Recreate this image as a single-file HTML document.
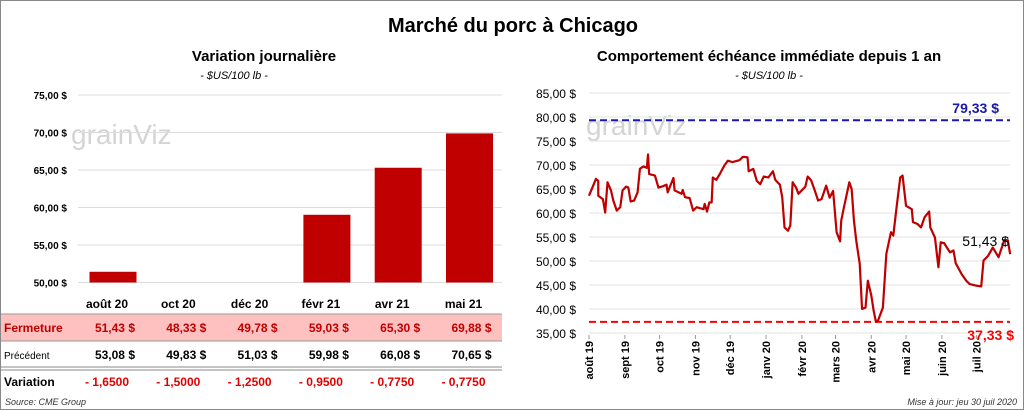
<!DOCTYPE html>
<html><head><meta charset="utf-8"><style>
body{margin:0;background:#fff;}
#wrap{position:relative;width:1022px;height:408px;border:1px solid #888;font-family:"Liberation Sans",sans-serif;overflow:hidden;}
svg text{font-family:"Liberation Sans",sans-serif;}
</style></head><body>
<div id="wrap">
<svg width="1022" height="408">
<text x="512" y="31" font-size="20" font-weight="bold" text-anchor="middle">Marché du porc à Chicago</text>
<text x="263" y="60" font-size="15" font-weight="bold" text-anchor="middle">Variation  journalière</text>
<text x="233" y="78" font-size="11" font-style="italic" text-anchor="middle">- $US/100 lb -</text>
<text x="768" y="60" font-size="15" font-weight="bold" text-anchor="middle">Comportement  échéance immédiate depuis 1 an</text>
<text x="768" y="78" font-size="11" font-style="italic" text-anchor="middle">- $US/100 lb -</text>
<text x="70" y="143" font-size="28" fill="#d4d4d4">grainViz</text>
<text x="585" y="134" font-size="28" fill="#d4d4d4">grainViz</text>
<g id="left"></g><g id="right"></g>
<rect x="0" y="313" width="501" height="27" fill="#ffc0c0"/>
<line x1="0" y1="313" x2="501" y2="313" stroke="#999"/>
<line x1="0" y1="340" x2="501" y2="340" stroke="#999"/>
<line x1="0" y1="366" x2="501" y2="366" stroke="#888"/>
<line x1="0" y1="369" x2="501" y2="369" stroke="#888"/>
<g id="table"></g>
<text x="4" y="404" font-size="9" font-style="italic" fill="#333">Source: CME Group</text>
<text x="1016" y="404" font-size="9" font-style="italic" fill="#333" text-anchor="end">Mise à jour: jeu 30 juil 2020</text>
</svg>
</div>
<script>
const contracts=["août 20","oct 20","déc 20","févr 21","avr 21","mai 21"];
const closeVals=[51.43,48.33,49.78,59.03,65.30,69.88];
const prevVals=[53.08,49.83,51.03,59.98,66.08,70.65];
const changeVals=["- 1,6500","- 1,5000","- 1,2500","- 0,9500","- 0,7750","- 0,7750"];
const leftTicks=[50,55,60,65,70,75];
const rightTicks=[35,40,45,50,55,60,65,70,75,80,85];
const months=["août 19","sept 19","oct 19","nov 19","déc 19","janv 20","févr 20","mars 20","avr 20","mai 20","juin 20","juil 20"];
const monthDays=[0,31,61,92,122,153,184,213,244,274,305,335];
const days=[0,6,8,8,12,14,16,19,21,24,27,29,32,34,36,39,42,44,47,50,51,52,57,60,63,67,68,73,74,80,81,83,87,90,93,99,100,102,104,106,107,110,113,117,120,124,130,133,137,138,142,145,148,151,155,159,161,165,167,169,172,174,176,179,181,187,189,192,195,198,201,205,208,211,214,217,218,220,225,227,229,231,234,236,239,241,244,246,248,250,254,257,261,263,266,269,271,274,279,280,284,287,290,294,295,299,302,304,307,312,315,317,322,326,329,334,339,341,345,349,354,359,362,364];
const prices=[63.6,67.1,66.7,63.6,62.9,60.1,66.4,64.7,62.6,60.5,61.2,64.7,65.5,65.3,62.4,62.6,64.3,69.2,69.7,69.4,72.2,68.1,67.8,65.3,65.5,65.9,64.3,67.3,64.7,64.0,64.8,63.3,63.1,60.5,61.2,60.8,61.9,60.3,62.2,62.2,67.4,66.9,68.1,69.9,70.9,70.6,71.0,71.7,71.6,68.7,69.2,66.7,66.0,67.6,67.4,68.7,66.9,65.9,63.3,57.0,56.3,57.4,66.4,65.3,64.0,65.5,67.6,66.8,64.8,62.6,62.9,65.7,63.2,64.6,56.0,54.1,58.4,60.8,66.4,65.0,58.4,54.2,49.4,40.0,40.3,45.9,42.8,39.7,37.3,37.7,40.3,51.5,56.0,55.3,61.5,67.4,67.8,61.5,60.8,58.1,57.7,57.0,59.1,60.3,57.0,54.9,48.7,53.9,53.7,51.8,52.2,49.5,47.3,45.9,45.2,44.9,44.7,50.1,51.1,52.8,50.8,54.4,54.3,51.43];
const highVal=79.33, lowVal=37.33, lastVal=51.43;
const NS="http://www.w3.org/2000/svg";
function mk(p,tag,at,txt){const e=document.createElementNS(NS,tag);for(const k in at)e.setAttribute(k,at[k]);if(txt!==undefined)e.textContent=txt;p.appendChild(e);return e;}
const fmt=v=>v.toFixed(2).replace('.',',');
const L=document.getElementById('left');
const ly=v=>281.5-(v-50)*7.5;
const lx=i=>112+i*71.3;
leftTicks.forEach(t=>{
 const g=mk(L,'line',{x1:77,x2:501,y1:ly(t),y2:ly(t),stroke:'#ddd'});
 
 
 const tx=mk(L,'text',{x:66,y:ly(t)+4,'font-size':10,'font-weight':'bold','text-anchor':'end'},fmt(t)+' $');
 
 
});
closeVals.forEach((v,i)=>{
 const top=ly(Math.max(v,50));
 const r=mk(L,'rect',{x:lx(i)-23.5,y:top,width:47,height:Math.max(0,ly(50)-top),fill:'#c00000'});
 
 
});
const T=document.getElementById('table');
contracts.forEach((c,i)=>{
 const cx=lx(i)-6;
 const h=mk(T,'text',{x:cx,y:307,'font-size':12,'font-weight':'bold','text-anchor':'middle'},c);
 
 
 const a=mk(T,'text',{x:cx+28,y:331,'font-size':12,'font-weight':'bold','fill':'#c00000','text-anchor':'end'},fmt(closeVals[i])+'  $');
 
 
 const b=mk(T,'text',{x:cx+28,y:358,'font-size':12,'font-weight':'bold','text-anchor':'end'},fmt(prevVals[i])+'  $');
 
 
 const d=mk(T,'text',{x:cx,y:385,'font-size':12,'font-weight':'bold','fill':'#e00000','text-anchor':'middle'},changeVals[i]);
 
 
});
[['Fermeture',331,'#c00000',12,'bold'],['Précédent',358,'#000',10,'normal'],['Variation',385,'#000',12,'bold']].forEach(r=>{
 const e=mk(T,'text',{x:3,y:r[1],'font-size':r[3],'font-weight':r[4],fill:r[2]},r[0]);
 
 
});
const R=document.getElementById('right');
const ry=v=>92+(85-v)*4.8;
const rx=d=>588+d*1.157;
rightTicks.forEach(t=>{
 const g=mk(R,'line',{x1:588,x2:1009,y1:ry(t),y2:ry(t),stroke:'#e3e3e3'});
 
 
 const tx=mk(R,'text',{x:575,y:ry(t)+5,'font-size':12,'text-anchor':'end'},fmt(t)+' $');
 
 
});
months.forEach((m,i)=>{
 const x=rx(monthDays[i]);
 const tk=mk(R,'line',{x1:x,x2:x,y1:334,y2:338,stroke:'#999'});
 
 
 const tx=mk(R,'text',{x:0,y:0,'font-size':11,'font-weight':'bold','text-anchor':'end',transform:`translate(${x+4},340) rotate(-90)`},m);
 
 
});
const hl=mk(R,'line',{x1:588,x2:1009,y1:ry(highVal),y2:ry(highVal),stroke:'#1a1aaa','stroke-width':2,'stroke-dasharray':'7,4'});


const ll=mk(R,'line',{x1:588,x2:1009,y1:ry(lowVal),y2:ry(lowVal),stroke:'#ff0000','stroke-width':2,'stroke-dasharray':'7,4'});


const pts=days.map((d,i)=>rx(d)+','+ry(prices[i])).join(' ');
const pl=mk(R,'polyline',{points:pts,fill:'none',stroke:'#c00000','stroke-width':2.2,'stroke-linejoin':'round'});


const ht=mk(R,'text',{x:998,y:ry(highVal)-7,'font-size':14,'font-weight':'bold',fill:'#1a1aaa','text-anchor':'end'},fmt(highVal)+' $');


const lt=mk(R,'text',{x:1013,y:ry(lowVal)+18,'font-size':14,'font-weight':'bold',fill:'#ff0000','text-anchor':'end'},fmt(lowVal)+' $');


const la=mk(R,'text',{x:1008,y:ry(lastVal)-8,'font-size':14,'text-anchor':'end'},fmt(lastVal)+' $');


</script>
</body></html>
